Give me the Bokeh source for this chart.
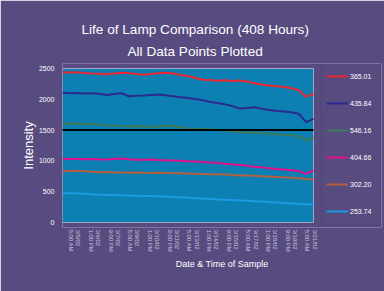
from bokeh.plotting import figure
from bokeh.models import (Title, Legend, LegendItem, FixedTicker, Range1d, ColumnDataSource)
from bokeh.embed import file_html
from bokeh.resources import INLINE

# ---- data ----
hours = [0, 12, 24, 36, 48, 60, 72, 84, 96, 108, 120, 132, 144, 156, 168, 180, 192, 204,
         216, 228, 240, 252, 264, 276, 288, 300, 312, 324, 336, 348, 360, 372, 384, 396, 408]

s365 = [2440, 2435, 2438, 2428, 2420, 2415, 2405, 2418, 2432, 2425, 2410, 2398, 2412, 2425,
        2430, 2418, 2395, 2380, 2345, 2318, 2312, 2300, 2308, 2296, 2305, 2290, 2262, 2240,
        2225, 2210, 2200, 2180, 2150, 2040, 2090]
s435 = [2105, 2098, 2102, 2095, 2100, 2090, 2070, 2085, 2098, 2050, 2058, 2062, 2070, 2078,
        2065, 2050, 2035, 2020, 2005, 1985, 1955, 1940, 1918, 1890, 1850, 1860, 1872, 1845,
        1828, 1810, 1800, 1790, 1765, 1630, 1683]
s546 = [1612, 1605, 1608, 1598, 1602, 1590, 1580, 1575, 1568, 1562, 1565, 1560, 1555, 1562,
        1570, 1565, 1545, 1528, 1520, 1515, 1512, 1505, 1490, 1482, 1470, 1462, 1455, 1450,
        1440, 1432, 1425, 1415, 1405, 1335, 1375]
s404 = [1035, 1032, 1030, 1028, 1030, 1025, 1022, 1030, 1038, 1025, 1020, 1018, 1022, 1015,
        1012, 1008, 1002, 995, 990, 982, 975, 968, 955, 945, 935, 920, 905, 895, 880, 870,
        860, 850, 835, 790, 845]
s302 = [835, 838, 840, 830, 822, 815, 818, 810, 812, 808, 810, 806, 804, 806, 802, 800, 798,
        795, 792, 788, 785, 782, 778, 770, 765, 762, 758, 752, 748, 740, 735, 728, 720, 705, 692]
s253 = [478, 474, 470, 465, 458, 452, 448, 446, 442, 438, 436, 432, 430, 428, 422, 415, 408,
        400, 394, 388, 382, 375, 368, 364, 358, 352, 345, 340, 332, 325, 318, 310, 302, 295, 287]

series_names = ["365.01", "435.84", "546.16", "404.66", "302.20", "253.74"]
series_values = [s365, s435, s546, s404, s302, s253]
series_colors = ["#e8262c", "#2b2a8e", "#3e7a5c", "#e0108c", "#b5603c", "#1c9ae2"]

y_ticks = [0, 500, 1000, 1500, 2000, 2500]
x_tick_hours = [20, 52, 84, 116, 148, 180, 212, 244, 276, 308, 340, 372, 404]
x_tick_labels = ["3/5/02\n5:00 AM", "3/6/02\n1:00 PM", "3/7/02\n9:00 PM", "3/9/02\n5:00 AM",
                 "3/10/02\n1:00 PM", "3/11/02\n9:00 PM", "3/13/02\n5:00 AM", "3/14/02\n1:00 PM",
                 "3/15/02\n9:00 PM", "3/17/02\n5:00 AM", "3/18/02\n1:00 PM", "3/19/02\n9:00 PM",
                 "3/21/02\n5:00 AM"]
reference_level = 1500

FONT = "Liberation Sans"
BG = "#574b80"
TEAL = "#0c80b2"

# The frame is widened to the right (and 5px up/down) so the legend box can sit inside it;
# the teal plotting area is drawn as a quad over the data extent.
PLOT_W = 251          # px of the data area
FRAME_W = 319         # px of the frame (data area + legend column)
PLOT_H = 154
PAD_V = 5
x_lo, x_hi = hours[0], hours[-1]
y_lo, y_hi = y_ticks[0], y_ticks[-1]
x_end = x_lo + (x_hi - x_lo) * FRAME_W / PLOT_W
unit_per_px = (y_hi - y_lo) / PLOT_H

p = figure(width=384, height=291, output_backend="svg", toolbar_location=None,
           x_range=Range1d(x_lo, x_end),
           y_range=Range1d(y_lo - PAD_V * unit_per_px, y_hi + PAD_V * unit_per_px),
           min_border_left=62, min_border_right=3, min_border_top=63, min_border_bottom=64)
p.background_fill_color = BG
p.border_fill_color = BG
p.outline_line_color = None
p.xgrid.visible = False
p.ygrid.visible = False

p.quad(left=x_lo, right=x_hi, bottom=y_lo, top=y_hi, fill_color=TEAL,
       line_color="#a9a4c4", line_width=1)

renderers = []
for name, vals, col in zip(series_names, series_values, series_colors):
    src = ColumnDataSource(dict(x=hours, y=vals))
    r = p.line("x", "y", source=src, line_color=col, line_width=2)
    renderers.append((name, r))

p.segment(x0=x_lo - 3, x1=x_hi, y0=reference_level, y1=reference_level,
          line_color="black", line_width=2)

# axes
p.yaxis.ticker = FixedTicker(ticks=y_ticks)
p.yaxis.axis_line_color = None
p.yaxis.major_tick_line_color = None
p.yaxis.major_tick_out = 0
p.yaxis.major_tick_in = 0
p.yaxis.minor_tick_line_color = None
p.yaxis.major_label_text_color = "white"
p.yaxis.major_label_text_font = FONT
p.yaxis.major_label_text_font_size = "7px"
p.yaxis.major_label_standoff = 8
p.yaxis.axis_label = "Intensity"
p.yaxis.axis_label_text_color = "white"
p.yaxis.axis_label_text_font = FONT
p.yaxis.axis_label_text_font_size = "13px"
p.yaxis.axis_label_text_font_style = "normal"
p.yaxis.axis_label_standoff = 0

p.xaxis.ticker = FixedTicker(ticks=x_tick_hours)
p.xaxis.major_label_overrides = {h: lab for h, lab in zip(x_tick_hours, x_tick_labels)}
p.xaxis.major_label_orientation = "vertical"
p.xaxis.axis_line_color = None
p.xaxis.major_tick_line_color = None
p.xaxis.major_tick_in = 0
p.xaxis.major_tick_out = 0
p.xaxis.minor_tick_line_color = None
p.xaxis.major_label_text_color = "#c9c5de"
p.xaxis.major_label_text_font = FONT
p.xaxis.major_label_text_font_size = "6px"
p.xaxis.major_label_standoff = 2
p.xaxis.axis_label = "Date & Time of Sample"
p.xaxis.axis_label_text_color = "white"
p.xaxis.axis_label_text_font = FONT
p.xaxis.axis_label_text_font_size = "9px"
p.xaxis.axis_label_text_font_style = "normal"
p.xaxis.axis_label_standoff = 4

# titles (first added sits closest to the plot)
p.add_layout(Title(text="All Data Points Plotted", text_color="white", text_font=FONT,
                   text_font_size="13.6px", text_font_style="normal", align="left",
                   offset=65, standoff=10), "above")
p.add_layout(Title(text="Life of Lamp Comparison (408 Hours)", text_color="white", text_font=FONT,
                   text_font_size="13.6px", text_font_style="normal", align="left",
                   offset=19, standoff=0), "above")

legend = Legend(items=[LegendItem(label=n, renderers=[r]) for n, r in renderers],
                location=(259, 1), margin=0, padding=4, spacing=7,
                glyph_width=22, glyph_height=20, label_height=20, label_width=26, label_standoff=2,
                label_text_font=FONT, label_text_font_size="7px", label_text_color="white",
                background_fill_alpha=0, border_line_color="#463d6e", border_line_width=1)
p.add_layout(legend, "center")

open("out.html", "w").write(file_html(p, INLINE))
